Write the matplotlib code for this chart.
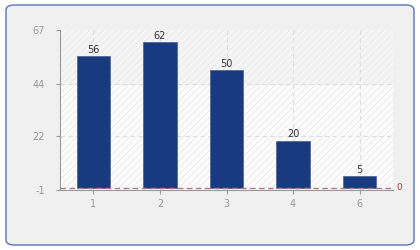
import numpy as np
import matplotlib.pyplot as plt
from matplotlib.patches import FancyBboxPatch, Rectangle

# data
categories = ['1', '2', '3', '4', '6']
values = [56, 62, 50, 20, 5]
yticks = [-1, 22, 44, 67]

plt.rcParams['hatch.linewidth'] = 0.6
plt.rcParams['font.family'] = ['DejaVu Sans']
plt.rcParams['axes.unicode_minus'] = False

fig = plt.figure(figsize=(4.2, 2.5), dpi=100)
fig.patch.set_facecolor('white')

# outer rounded panel
panel = FancyBboxPatch((6 / 420, 5 / 250), 408 / 420, 240 / 250,
                       boxstyle='round,pad=0,rounding_size=0.02',
                       transform=fig.transFigure, facecolor='#f0f0f0',
                       edgecolor='#5a74b0', linewidth=1.0, zorder=-5)
fig.add_artist(panel)

ax = fig.add_axes([60 / 420, 1 - 190 / 250, 333 / 420, 160 / 250])
ax.set_zorder(1)
ax.set_facecolor('#fcfcfc')

x = np.arange(len(categories))
ax.set_xlim(-0.5, len(categories) - 0.5)
ax.set_ylim(yticks[0], yticks[-1])

# upper band slightly darker
ax.axhspan(yticks[2], yticks[3], color='#f5f5f5', zorder=0)
# faint diagonal hatching
ax.add_patch(Rectangle((0, 0), 1, 1, transform=ax.transAxes, facecolor='none',
                       edgecolor='#e8e8e8', hatch='/////', linewidth=0, zorder=0.5))

# grid
for yv in yticks[1:-1]:
    ax.axhline(yv, color='#dddddd', linestyle=(0, (4, 3)), linewidth=0.8, zorder=1)
for xv in x:
    ax.axvline(xv, color='#dddddd', linestyle=(0, (4, 3)), linewidth=0.8, zorder=1)

bars = ax.bar(x, values, width=0.5, color='#1a3a80', edgecolor='#4a5f8f',
              linewidth=0.5, zorder=2)
for xi, v in zip(x, values):
    ax.text(xi, v + 0.5, str(v), ha='center', va='bottom', fontsize=7,
            color='#333333', zorder=3)

# zero line
ax.axhline(0, color='#b07888', linestyle=(0, (4, 2.5)), linewidth=1.0, zorder=2.5)
ax.text(1.01, 0, '0', transform=ax.get_yaxis_transform(), ha='left', va='center',
        fontsize=6.5, color='#b03040')

ax.set_xticks(x)
ax.set_xticklabels(categories)
ax.set_yticks(yticks)
ax.tick_params(axis='both', colors='#999999', labelsize=7, length=3, width=0.8,
               labelcolor='#999999')
ax.tick_params(axis='y', pad=8)

for side in ['top', 'right']:
    ax.spines[side].set_visible(False)
for side in ['left', 'bottom']:
    ax.spines[side].set_color('#999999')
    ax.spines[side].set_linewidth(0.8)

fig.savefig('out.png', dpi=100)
